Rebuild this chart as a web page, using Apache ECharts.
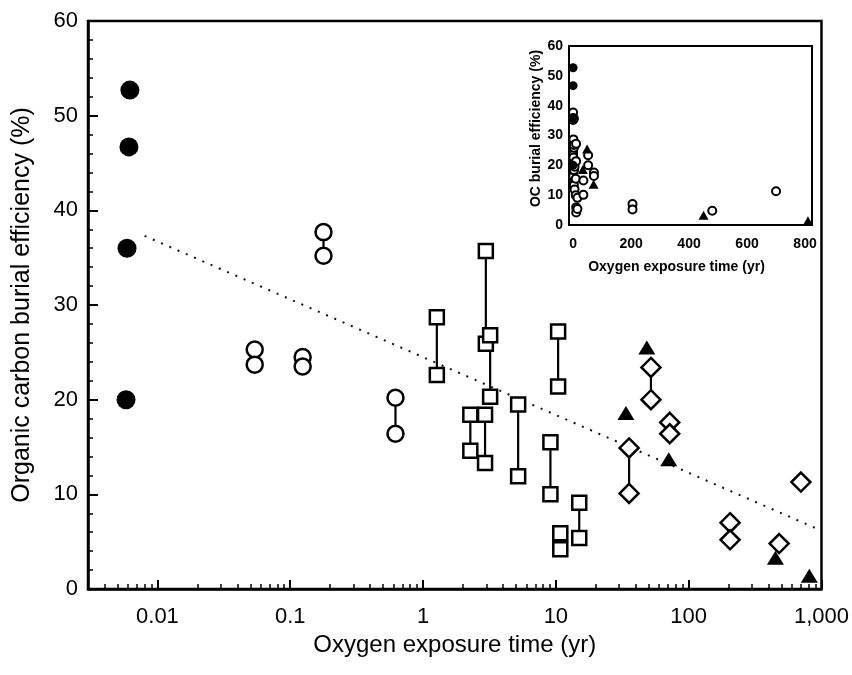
<!DOCTYPE html>
<html><head><meta charset="utf-8">
<script src="https://cdn.jsdelivr.net/npm/echarts@6/dist/echarts.min.js"></script>
<style>html,body{margin:0;padding:0;background:#fff}#c{width:852px;height:675px}</style>
</head><body><div id="c"></div>
<script>
// ---- tick labels ----
const xTickExps = [-2, -1, 0, 1, 2, 3];
const xTickLabels = ['0.01', '0.1', '1', '10', '100', '1,000'];

// ---- data (oxygen exposure time in yr, burial efficiency in %) ----
// filled circles
const fcX = [0.0062, 0.0061, 0.0059, 0.0058];
const fcY = [52.7, 46.7, 36.0, 20.0];
// open circles (pairs)
const ocX  = [0.054, 0.124, 0.178, 0.62];
const ocHi = [25.3, 24.5, 37.7, 20.2];
const ocLo = [23.7, 23.5, 35.2, 16.4];
// open squares (pairs)
const sqX  = [1.27, 2.97, 3.2, 2.27, 2.93, 5.2, 10.4, 9.1, 10.8, 15.0];
const sqHi = [28.7, 35.7, 26.8, 18.4, 18.4, 19.5, 27.2, 15.5, 5.9, 9.1];
const sqLo = [22.6, 25.9, 20.3, 14.6, 13.3, 11.9, 21.4, 10.0, 4.2, 5.4];
// open diamonds (pairs)
const dmX  = [35.6, 52, 72, 205];
const dmHi = [14.9, 23.4, 17.6, 7.0];
const dmLo = [10.1, 20.0, 16.4, 5.2];
// open diamonds (single)
const dsX = [480, 700];
const dsY = [4.8, 11.3];
// filled triangles
const trX = [33.7, 48.4, 70.8, 450, 810];
const trY = [18.6, 25.5, 13.7, 3.3, 1.4];
// dotted trend line end points
const trendX = [0.008, 950];
const trendY = [37.3, 6.3];

// ---- builders ----
const pts = (xs, ys) => xs.map((x, i) => [x, ys[i]]);
const pairPts = (xs, hi, lo) => xs.flatMap((x, i) => [[x, hi[i]], [x, lo[i]]]);
const pairLines = (xs, hi, lo) => xs.flatMap((x, i) => [[x, hi[i]], [x, lo[i]], [x, '-']]);

const FONT = "'Liberation Sans', Arial, Helvetica, sans-serif";
const black = '#000';

function logFmt(v) {
  const e = Math.log10(v);
  const r = Math.round(e);
  if (Math.abs(e - r) > 1e-6) return '';
  const i = xTickExps.indexOf(r);
  return i >= 0 ? xTickLabels[i] : '';
}

const openStyle = (bw) => ({ color: '#fff', borderColor: black, borderWidth: bw, opacity: 1 });
const solid = { color: black, opacity: 1 };

const chart = echarts.init(document.getElementById('c'), null, { renderer: 'canvas' });
chart.setOption({
  backgroundColor: '#fff',
  animation: false,
  grid: [
    { left: 88, right: 29, top: 21, bottom: 86, show: true, borderColor: black, borderWidth: 2.5, backgroundColor: 'transparent' },
    { left: 569, right: 40, top: 46, bottom: 450, show: true, borderColor: black, borderWidth: 2, backgroundColor: '#fff' }
  ],
  xAxis: [
    {
      gridIndex: 0, type: 'log', logBase: 10, min: 0.003, max: 1000,
      axisLine: { show: true, onZero: false, lineStyle: { color: black, width: 2.5 } },
      axisTick: { show: true, inside: true, length: 9, lineStyle: { color: black, width: 2 } },
      minorTick: { show: true, splitNumber: 9, length: 5, lineStyle: { color: black, width: 1.5 } },
      splitLine: { show: false },
      axisLabel: { formatter: logFmt, fontSize: 22, color: black, margin: 17, fontFamily: FONT },
      name: 'Oxygen exposure time (yr)', nameLocation: 'middle', nameGap: 42,
      nameTextStyle: { fontSize: 24, color: black, fontFamily: FONT }
    },
    {
      gridIndex: 1, type: 'value', min: -14, max: 824, splitNumber: 4,
      axisLine: { show: true, onZero: false, lineStyle: { color: black, width: 2 } },
      axisTick: { show: false },
      splitLine: { show: false },
      axisLabel: { formatter: v => (Math.abs(v % 200) < 1e-9 ? String(v) : ''), fontSize: 14, fontWeight: 'bold', color: black, margin: 12, fontFamily: FONT },
      name: 'Oxygen exposure time (yr)', nameLocation: 'middle', nameGap: 35,
      nameTextStyle: { fontSize: 14, fontWeight: 'bold', color: black, fontFamily: FONT, padding: [0, 28, 0, 0] }
    }
  ],
  yAxis: [
    {
      gridIndex: 0, type: 'value', min: 0, max: 60, interval: 10,
      axisLine: { show: true, onZero: false, lineStyle: { color: black, width: 2.5 } },
      axisTick: { show: true, inside: true, length: 10, lineStyle: { color: black, width: 2 } },
      minorTick: { show: true, splitNumber: 5, length: 5, lineStyle: { color: black, width: 1.5 } },
      splitLine: { show: false },
      axisLabel: { fontSize: 22, color: black, margin: 10, fontFamily: FONT },
      name: 'Organic carbon burial efficiency (%)', nameLocation: 'middle', nameGap: 53,
      nameTextStyle: { fontSize: 25, color: black, fontFamily: FONT }
    },
    {
      gridIndex: 1, type: 'value', min: 0, max: 60, interval: 10,
      axisLine: { show: true, onZero: false, lineStyle: { color: black, width: 2 } },
      axisTick: { show: false },
      splitLine: { show: false },
      axisLabel: { fontSize: 14, fontWeight: 'bold', color: black, margin: 6, fontFamily: FONT },
      name: 'OC burial efficiency (%)', nameLocation: 'middle', nameGap: 24,
      nameTextStyle: { fontSize: 14, fontWeight: 'bold', color: black, fontFamily: FONT, padding: [0, 0, 0, 14] }
    }
  ],
  series: [
    // trend
    { type: 'line', xAxisIndex: 0, yAxisIndex: 0, data: pts(trendX, trendY), showSymbol: false, symbol: 'none',
      lineStyle: { color: '#111', width: 2, type: [2, 7] }, z: 1, silent: true },
    // connectors
    { type: 'line', xAxisIndex: 0, yAxisIndex: 0, symbol: 'none', connectNulls: false,
      data: [].concat(pairLines(ocX, ocHi, ocLo), pairLines(sqX, sqHi, sqLo), pairLines(dmX, dmHi, dmLo)),
      lineStyle: { color: black, width: 2.2 }, z: 2, silent: true },
    // markers main
    { type: 'scatter', xAxisIndex: 0, yAxisIndex: 0, symbol: 'circle', symbolSize: 16,
      data: pairPts(ocX, ocHi, ocLo), itemStyle: openStyle(2.5), z: 3 },
    { type: 'scatter', xAxisIndex: 0, yAxisIndex: 0, symbol: 'rect', symbolSize: 14,
      data: pairPts(sqX, sqHi, sqLo), itemStyle: openStyle(2.5), z: 3 },
    { type: 'scatter', xAxisIndex: 0, yAxisIndex: 0, symbol: 'diamond', symbolSize: 19,
      data: pairPts(dmX, dmHi, dmLo).concat(pts(dsX, dsY)), itemStyle: openStyle(2.5), z: 3 },
    { type: 'scatter', xAxisIndex: 0, yAxisIndex: 0, symbol: 'circle', symbolSize: 19,
      data: pts(fcX, fcY), itemStyle: solid, z: 4 },
    { type: 'scatter', xAxisIndex: 0, yAxisIndex: 0, symbol: 'triangle', symbolSize: [17, 14],
      data: pts(trX, trY), itemStyle: solid, z: 4 },
    // inset markers
    { type: 'scatter', xAxisIndex: 1, yAxisIndex: 1, symbol: 'circle', symbolSize: 8,
      data: [].concat(pairPts(ocX, ocHi, ocLo), pairPts(sqX, sqHi, sqLo), pairPts(dmX, dmHi, dmLo), pts(dsX, dsY)),
      itemStyle: openStyle(2), z: 5 },
    { type: 'scatter', xAxisIndex: 1, yAxisIndex: 1, symbol: 'circle', symbolSize: 9,
      data: pts(fcX, fcY), itemStyle: solid, z: 6 },
    { type: 'scatter', xAxisIndex: 1, yAxisIndex: 1, symbol: 'triangle', symbolSize: [10, 9],
      data: pts(trX, trY), itemStyle: solid, z: 6 }
  ]
});
</script>
</body></html>
